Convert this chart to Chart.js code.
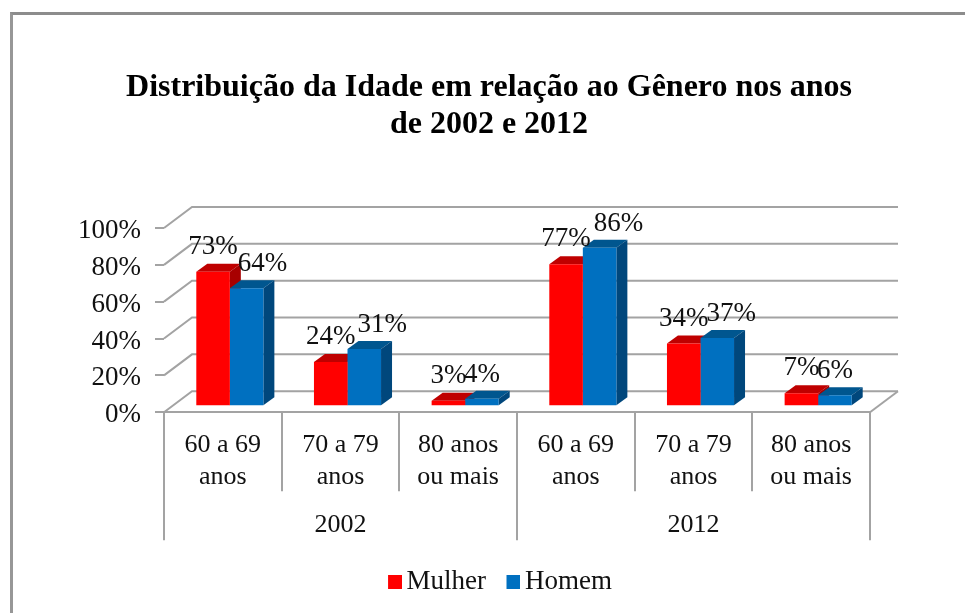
<!DOCTYPE html>
<html>
<head>
<meta charset="utf-8">
<title>Distribuição da Idade</title>
<script src="https://cdn.jsdelivr.net/npm/chart.js@4/dist/chart.umd.min.js"></script>
<style>
    html, body { margin: 0; padding: 0; background: #fff; overflow: hidden; }
    #wrap { position: absolute; left: 0; top: 0; width: 965px; height: 613px; }
    #frame { position: absolute; left: 10px; top: 12px; right: 0; bottom: 0; border-top: 3px solid #8c8c8c; border-left: 3px solid #979797; }
</style>
</head>
<body>
<div id="frame"></div>
<div id="wrap"><canvas id="chart" width="965" height="613"></canvas></div>
<script>
// ── Data ──────────────────────────────────────────────────────
const titleLines = ['Distribuição da Idade em relação ao Gênero nos anos', 'de 2002 e 2012'];
const ageLabels  = [['60 a 69', 'anos'], ['70 a 79', 'anos'], ['80 anos', 'ou mais'],
                    ['60 a 69', 'anos'], ['70 a 79', 'anos'], ['80 anos', 'ou mais']];
const yearLabels = ['2002', '2012'];
const mulher     = [73, 24, 3, 77, 34, 7];
const homem      = [64, 31, 4, 86, 37, 6];

// ── Look ──────────────────────────────────────────────────────
const FONT    = "'Liberation Serif', 'Times New Roman', serif";
const INK     = '#111';
const GRID    = '#a3a3a3';
const COLORS  = ['#ff0000', '#0070c0'];
const WALL    = { dx: 28, dy: -21 };   // depth of the floor / walls
const BAR_OFF = { dx: 7,  dy: -6 };    // bars stand inside the floor
const BAR_D   = { dx: 11, dy: -8 };    // depth of each bar
const shades  = [
    { top: '#bf0000', side: '#a80000' },
    { top: '#00568f', side: '#00477c' },
];
// the labels were nudged sideways by hand in the original
const labelNudge = [
    [0, 0, 0, 0, 0, 0],
    [16, 18, 0, 19, 14, 0],
];
const labelRise = [25, 24];

// Legend swatch sits close to its text, which boxWidth alone can't do:
// a wider image with the square on its right side, centred on a narrow box
function swatch(color) {
    const c = document.createElement('canvas');
    c.width = 23;
    c.height = 14;
    const g = c.getContext('2d');
    g.fillStyle = color;
    g.fillRect(9, 0, 14, 14);
    return c;
}
const swatches = COLORS.map(swatch);

// ── 3D plugin ─────────────────────────────────────────────────
const fake3d = {
    id: 'fake3d',
    afterLayout(chart) {
        const t = chart.titleBlock, l = chart.legend;
        t.left += 54; t.right += 54;
        l.left += 65; l.right += 65;
        l.top = 577 - l.height / 2;
        l.bottom = l.top + l.height;
    },
    beforeDatasetsDraw(chart) {
        const { ctx, scales, chartArea } = chart;
        const y = scales.y;

        ctx.save();
        ctx.strokeStyle = GRID;
        ctx.lineWidth = 2;
        y.ticks.forEach(t => {
            const py = y.getPixelForValue(t.value);
            ctx.beginPath();
            ctx.moveTo(chartArea.left, py);
            ctx.lineTo(chartArea.left + WALL.dx, py + WALL.dy);
            ctx.lineTo(chartArea.right + WALL.dx, py + WALL.dy);
            ctx.stroke();
        });
        ctx.beginPath();
        ctx.moveTo(chartArea.right, chartArea.bottom);
        ctx.lineTo(chartArea.right + WALL.dx, chartArea.bottom + WALL.dy);
        ctx.stroke();

        // bar tops and sides go under the front faces
        ctx.translate(BAR_OFF.dx, BAR_OFF.dy);
        chart.data.datasets.forEach((ds, i) => {
            chart.getDatasetMeta(i).data.forEach(bar => {
                const left = bar.x - bar.width / 2, right = bar.x + bar.width / 2;
                ctx.fillStyle = shades[i].top;
                ctx.beginPath();
                ctx.moveTo(left, bar.y);
                ctx.lineTo(left + BAR_D.dx, bar.y + BAR_D.dy);
                ctx.lineTo(right + BAR_D.dx, bar.y + BAR_D.dy);
                ctx.lineTo(right, bar.y);
                ctx.closePath();
                ctx.fill();

                ctx.fillStyle = shades[i].side;
                ctx.beginPath();
                ctx.moveTo(right, bar.y);
                ctx.lineTo(right + BAR_D.dx, bar.y + BAR_D.dy);
                ctx.lineTo(right + BAR_D.dx, bar.base + BAR_D.dy);
                ctx.lineTo(right, bar.base);
                ctx.closePath();
                ctx.fill();
            });
        });
        ctx.restore();

        // shift the front faces too, undone in afterDatasetsDraw
        ctx.save();
        ctx.translate(BAR_OFF.dx, BAR_OFF.dy);
    },
    afterDatasetsDraw(chart) {
        const { ctx } = chart;
        ctx.restore();

        ctx.save();
        ctx.font = `27px ${FONT}`;
        ctx.fillStyle = INK;
        ctx.textAlign = 'center';
        ctx.textBaseline = 'middle';
        chart.data.datasets.forEach((ds, i) => {
            chart.getDatasetMeta(i).data.forEach((bar, j) => {
                const lx = bar.x + BAR_OFF.dx + labelNudge[i][j];
                const ly = bar.y + BAR_OFF.dy - labelRise[i];
                ctx.fillText(ds.data[j] + '%', lx, ly);
            });
        });
        ctx.restore();
    },
};

// ── Chart ─────────────────────────────────────────────────────
new Chart(document.getElementById('chart'), {
    type: 'bar',
    plugins: [fake3d],
    data: {
        labels: ageLabels,
        datasets: [
            { label: 'Mulher', data: mulher, backgroundColor: COLORS[0] },
            { label: 'Homem',  data: homem,  backgroundColor: COLORS[1] },
        ],
    },
    options: {
        responsive: false,
        animation: false,
        layout: { padding: { right: 95, bottom: 15.3 } },
        categoryPercentage: 0.57,
        barPercentage: 1,
        plugins: {
            tooltip: { enabled: false },
            title: {
                display: true,
                text: titleLines,
                color: '#000',
                font: { family: FONT, size: 32, weight: 'bold', lineHeight: 1.156 },
                padding: { top: 69, bottom: 85 },
            },
            legend: {
                position: 'bottom',
                onClick: null,
                labels: {
                    color: INK,
                    usePointStyle: true,
                    boxWidth: 5,
                    boxHeight: 14,
                    padding: 20.5,
                    font: { family: FONT, size: 27 },
                    generateLabels(chart) {
                        const items = Chart.defaults.plugins.legend.labels.generateLabels(chart);
                        items.forEach((item, i) => { item.pointStyle = swatches[i]; });
                        return items;
                    },
                },
            },
        },
        scales: {
            x: {
                offset: true,
                afterFit(s) { s.height = 79; },
                grid: { offset: true, drawOnChartArea: false, tickLength: 79, color: GRID, lineWidth: 2 },
                border: { display: true, color: GRID, width: 2 },
                ticks: {
                    autoSkip: false,
                    maxRotation: 0,
                    padding: -62,
                    color: INK,
                    font: { family: FONT, size: 26, lineHeight: 1.23 },
                },
            },
            x2: {
                type: 'category',
                labels: yearLabels,
                position: 'bottom',
                offset: true,
                afterFit(s) { s.height = 49; },
                grid: { offset: true, drawOnChartArea: false, tickLength: 49, color: GRID, lineWidth: 2 },
                border: { display: false },
                ticks: {
                    maxRotation: 0,
                    padding: -31,
                    color: INK,
                    font: { family: FONT, size: 26 },
                },
            },
            y: {
                min: 0,
                max: 100,
                afterFit(s) { s.width = 164; },
                grid: { drawOnChartArea: false, tickLength: 9, color: GRID, lineWidth: 2 },
                border: { display: false },
                ticks: {
                    stepSize: 20,
                    autoSkip: false,
                    padding: 14,
                    labelOffset: 3,
                    color: INK,
                    font: { family: FONT, size: 27 },
                    callback: v => v + '%',
                },
            },
        },
    },
});
</script>
</body>
</html>
